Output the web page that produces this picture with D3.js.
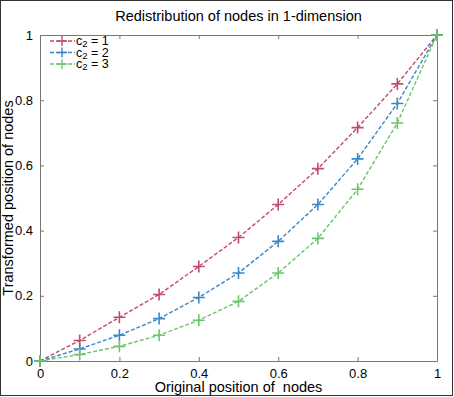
<!DOCTYPE html>
<html>
<head>
<meta charset="utf-8">
<script src="https://cdn.jsdelivr.net/npm/d3@7"></script>
<style>
  body { margin: 0; background: #fff; }
  svg { display: block; font-family: Arial, "Liberation Sans", sans-serif; }
  .tick text { font-size: 13px; fill: #000; }
  .axis path, .axis line { stroke: #777; }
</style>
</head>
<body>
<div id="chart"></div>
<script>
var xs = [0, 0.1, 0.2, 0.3, 0.4, 0.5, 0.6, 0.7, 0.8, 0.9, 1];
var c2_1 = [0, 0.063, 0.134, 0.204, 0.29, 0.379, 0.48, 0.59, 0.716, 0.85, 1];
var c2_2 = [0, 0.037, 0.079, 0.13, 0.195, 0.27, 0.367, 0.48, 0.62, 0.79, 1];
var c2_3 = [0, 0.02, 0.045, 0.079, 0.125, 0.183, 0.27, 0.376, 0.527, 0.73, 1];
var seriesNames = ["1", "2", "3"];
var colors = ["#c24a6c", "#3d87c6", "#6cc56c"];
var ticks = [0, 0.2, 0.4, 0.6, 0.8, 1];

var width = 454, height = 397;
var margin = {left: 40, right: 17, top: 35, bottom: 36};

var svg = d3.select("#chart").append("svg")
  .attr("width", width)
  .attr("height", height);

// outer frame
svg.append("rect")
  .attr("x", 0.5).attr("y", 0.5)
  .attr("width", width - 2).attr("height", height - 2)
  .attr("fill", "none").attr("stroke", "#333");

var x = d3.scaleLinear().domain([0, 1]).range([margin.left, width - margin.right]);
var y = d3.scaleLinear().domain([0, 1]).range([height - margin.bottom, margin.top]);

var fmt = function(d) { return d === 0 || d === 1 ? d3.format("d")(d) : d3.format(".1f")(d); };

svg.append("g").attr("class", "axis")
  .attr("transform", "translate(0," + y(0) + ")")
  .call(d3.axisBottom(x).tickValues(ticks).tickFormat(fmt).tickSizeInner(-4).tickSizeOuter(0).tickPadding(8));
svg.append("g").attr("class", "axis")
  .attr("transform", "translate(0," + y(1) + ")")
  .call(d3.axisTop(x).tickValues(ticks).tickFormat("").tickSizeInner(-4).tickSizeOuter(0));
svg.append("g").attr("class", "axis")
  .attr("transform", "translate(" + x(0) + ",0)")
  .call(d3.axisLeft(y).tickValues(ticks).tickFormat(fmt).tickSizeInner(-4).tickSizeOuter(0).tickPadding(7));
svg.append("g").attr("class", "axis")
  .attr("transform", "translate(" + x(1) + ",0)")
  .call(d3.axisRight(y).tickValues(ticks).tickFormat("").tickSizeInner(-4).tickSizeOuter(0));
svg.selectAll(".axis .domain").attr("stroke", "#777");

var all = [c2_1, c2_2, c2_3];
var line = d3.line()
  .x(function(d, i) { return x(xs[i]); })
  .y(function(d) { return y(d); });

all.forEach(function(vals, k) {
  var g = svg.append("g");
  g.append("path")
    .attr("d", line(vals))
    .attr("fill", "none")
    .attr("stroke", colors[k])
    .attr("stroke-width", 1.4)
    .attr("stroke-dasharray", "4,2");
  g.selectAll(".mk").data(vals).enter().append("path")
    .attr("transform", function(d, i) { return "translate(" + x(xs[i]) + "," + y(d) + ")"; })
    .attr("d", "M-6,0H6M0,-6V6")
    .attr("stroke", colors[k])
    .attr("stroke-width", 1.6);
});

// legend
var lg = svg.append("g");
seriesNames.forEach(function(n, k) {
  var ly = 41 + k * 11.5;
  lg.append("line")
    .attr("x1", 50).attr("x2", 75).attr("y1", ly).attr("y2", ly)
    .attr("stroke", colors[k]).attr("stroke-width", 1.4).attr("stroke-dasharray", "4,2");
  lg.append("path")
    .attr("transform", "translate(62," + ly + ")")
    .attr("d", "M-5,0H5M0,-5V5")
    .attr("stroke", colors[k]).attr("stroke-width", 1.4);
  var t = lg.append("text")
    .attr("x", 76).attr("y", ly + 4)
    .attr("font-size", 12.5);
  t.append("tspan").text("c");
  t.append("tspan").attr("font-size", 9.5).attr("dy", 2).text("2");
  t.append("tspan").attr("dy", -2).text(" = " + n);
});

svg.append("text")
  .attr("x", (x(0) + x(1)) / 2).attr("y", 21)
  .attr("text-anchor", "middle").attr("font-size", 14.5)
  .text("Redistribution of nodes in 1-dimension");

svg.append("text")
  .attr("x", (x(0) + x(1)) / 2).attr("y", 392)
  .attr("text-anchor", "middle").attr("font-size", 14.5)
  .style("white-space", "pre")
  .text("Original position of  nodes");

svg.append("text")
  .attr("transform", "translate(13," + (y(0) + y(1)) / 2 + ") rotate(-90)")
  .attr("text-anchor", "middle").attr("font-size", 14.5)
  .text("Transformed position of nodes");
</script>
</body>
</html>
